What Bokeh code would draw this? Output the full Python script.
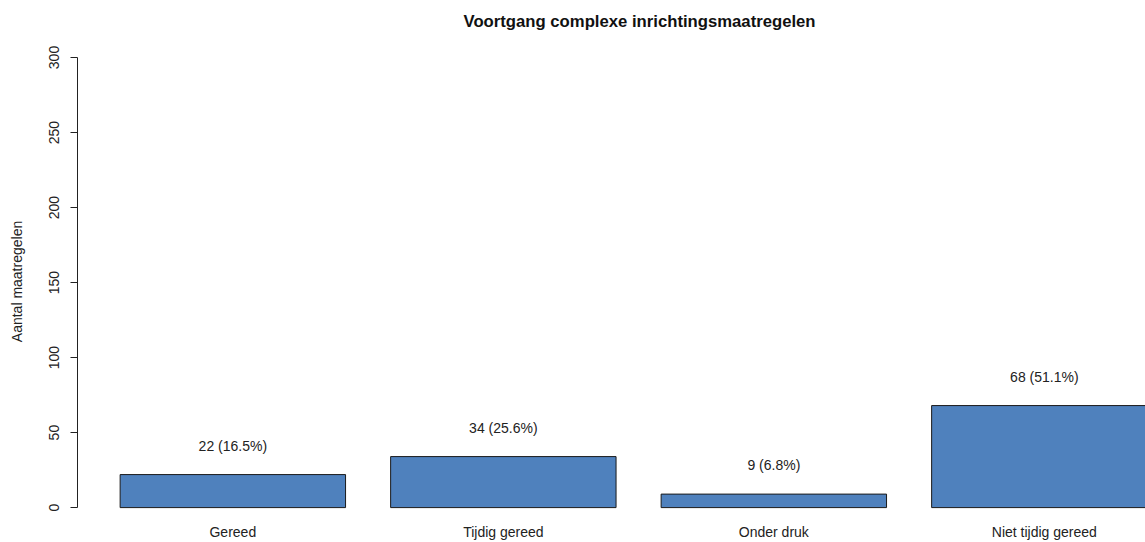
from bokeh.plotting import figure
from bokeh.models import FixedTicker, Range1d, ColumnDataSource
from bokeh.embed import file_html
from bokeh.resources import INLINE
from bokeh.core.properties import value

# ---- data ----
categories = ["Gereed", "Tijdig gereed", "Onder druk", "Niet tijdig gereed"]
counts = [22, 34, 9, 68]
percents = [16.5, 25.6, 6.8, 51.1]
y_ticks = [0, 50, 100, 150, 200, 250, 300]

title = "Voortgang complexe inrichtingsmaatregelen"
y_label = "Aantal maatregelen"

FONT = "Liberation Sans"
TXT = "#222222"

xpos = list(range(1, len(categories) + 1))
labels = [f"{c} ({p:.1f}%)" for c, p in zip(counts, percents)]
src = ColumnDataSource(dict(x=xpos, top=counts, label=labels))

p = figure(width=1145, height=542, output_backend="svg", toolbar_location=None,
           x_range=Range1d(0.4257, 4.374), y_range=Range1d(-10.6, 312),
           min_border_left=77, min_border_right=0, min_border_top=38, min_border_bottom=0)

p.outline_line_color = None
p.xgrid.visible = False
p.ygrid.visible = False
p.background_fill_color = "white"

p.vbar(x="x", top="top", bottom=0, width=1 / 1.2, source=src,
       fill_color="#4F81BD", line_color="#1a1a1a", line_width=1)

p.text(x="x", y="top", text="label", source=src, y_offset=-29,
       text_align="center", text_baseline="middle",
       text_font=value(FONT), text_font_size="14px", text_color=TXT)

# title
p.title.text = title
p.title.align = "left"
p.title.offset = 386
p.title.text_font = FONT
p.title.text_font_size = "16.7px"
p.title.text_font_style = "bold"
p.title.text_color = "#111111"
p.title.standoff = 18

# x axis (category names only)
xa = p.xaxis[0]
xa.ticker = FixedTicker(ticks=xpos)
xa.major_label_overrides = {i: c for i, c in zip(xpos, categories)}
xa.axis_line_color = None
xa.major_tick_line_color = None
xa.major_tick_out = 0
xa.major_tick_in = 0
xa.minor_tick_line_color = None
xa.minor_tick_out = 0
xa.major_label_standoff = 0
xa.major_label_text_font = FONT
xa.major_label_text_font_size = "14px"
xa.major_label_text_color = TXT

# y axis
ya = p.yaxis[0]
ya.ticker = FixedTicker(ticks=y_ticks)
ya.bounds = (0, 300)
ya.axis_line_color = "#222222"
ya.major_tick_line_color = "#222222"
ya.major_tick_out = 7
ya.major_tick_in = 0
ya.minor_tick_line_color = None
ya.major_label_orientation = "vertical"
ya.major_label_standoff = 11
ya.major_label_text_font = FONT
ya.major_label_text_font_size = "14px"
ya.major_label_text_color = TXT
ya.axis_label = y_label
ya.axis_label_standoff = 22
ya.axis_label_text_font = FONT
ya.axis_label_text_font_size = "14px"
ya.axis_label_text_font_style = "normal"
ya.axis_label_text_color = TXT

open("out.html", "w").write(file_html(p, INLINE))
